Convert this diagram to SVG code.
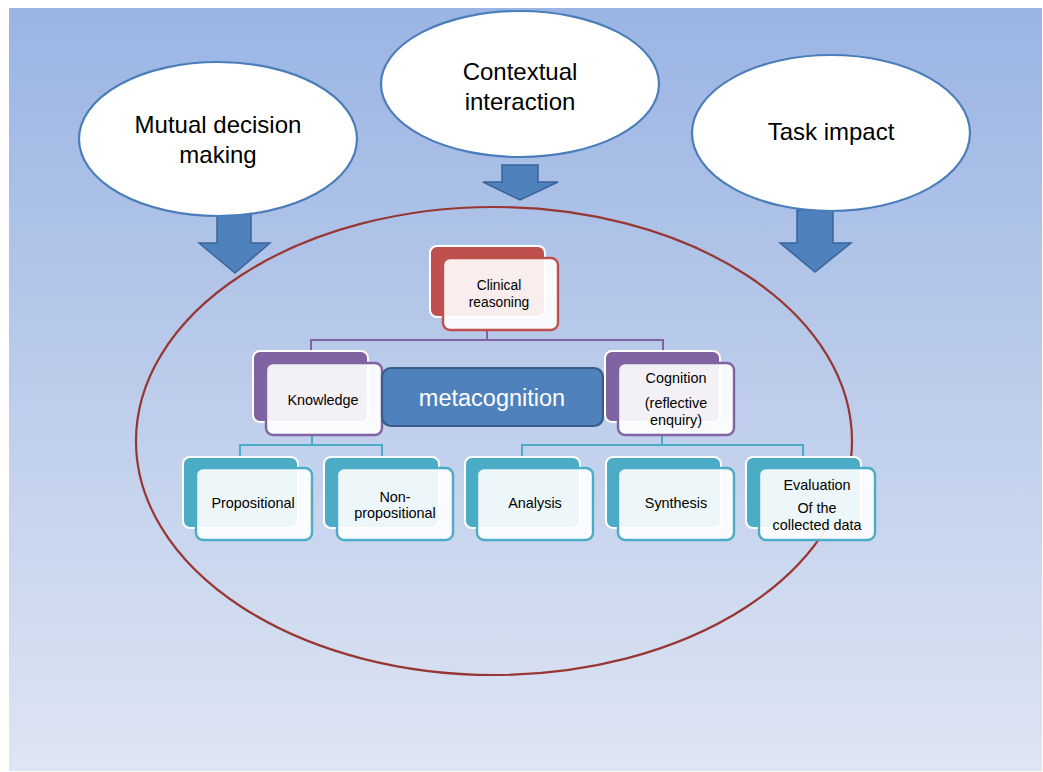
<svg xmlns="http://www.w3.org/2000/svg" width="1043" height="772" viewBox="0 0 1043 772">
  <defs>
    <linearGradient id="bg" x1="0" y1="0" x2="0" y2="1">
      <stop offset="0" stop-color="#9AB4E3"/>
      <stop offset="1" stop-color="#DEE5F3"/>
    </linearGradient>
  </defs>
  <style>
    .lbl { font-family: "Liberation Sans", Arial, sans-serif; fill: #000; text-anchor: middle; }
    .big { font-size: 24px; }
    .sm { font-size: 14.4px; }
    .bubble { fill: #FFFFFF; stroke: #4A7EBB; stroke-width: 2.2; }
    .arrow { fill: #4F81BD; stroke: #3A649A; stroke-width: 1.5; stroke-linejoin: miter; }
    .ring { fill: none; stroke: #983634; stroke-width: 2.2; }
    .back { stroke: #FFFFFF; stroke-width: 2; }
    .front { fill: #FFFFFF; fill-opacity: 0.9; stroke-width: 2.4; }
    .red .back { fill: #C0504D; }
    .red .front { stroke: #C0504D; }
    .purple .back { fill: #8064A2; }
    .purple .front { stroke: #8064A2; }
    .teal .back { fill: #4BACC6; }
    .teal .front { stroke: #4BACC6; }
    .link-p { fill: none; stroke: #8064A2; stroke-width: 2; }
    .link-t { fill: none; stroke: #4BACC6; stroke-width: 2; }
  </style>

  <!-- backdrop -->
  <rect x="9" y="8" width="1033" height="763" fill="url(#bg)"/>

  <!-- outer boundary ring -->
  <ellipse class="ring" cx="494" cy="441" rx="358" ry="234"/>

  <!-- influence arrows -->
  <g id="arrows">
    <polygon class="arrow" points="217,210 251,210 251,243 270,243 235,273 199,243 217,243"/>
    <polygon class="arrow" points="502,165 538,165 538,182 558,182 520,200 483,182 502,182"/>
    <polygon class="arrow" points="797,210 833,210 833,243 851,243 815,272 780,243 797,243"/>
  </g>

  <!-- outside influences -->
  <g id="mutual-decision">
    <ellipse class="bubble" cx="218" cy="139" rx="139" ry="77"/>
    <text class="lbl big" x="218" y="133">Mutual decision</text>
    <text class="lbl big" x="218" y="163">making</text>
  </g>
  <g id="contextual-interaction">
    <ellipse class="bubble" cx="520" cy="84" rx="139" ry="73"/>
    <text class="lbl big" x="520" y="80">Contextual</text>
    <text class="lbl big" x="520" y="110">interaction</text>
  </g>
  <g id="task-impact">
    <ellipse class="bubble" cx="831" cy="133" rx="139" ry="78"/>
    <text class="lbl big" x="831" y="140">Task impact</text>
  </g>

  <!-- hierarchy connectors -->
  <g id="connectors">
    <path class="link-p" d="M487,331 V340 M311,352 V340 H663 V352"/>
    <path class="link-t" d="M312,435 V445 M240,457 V445 H382 V457"/>
    <path class="link-t" d="M662,435 V445 M522,457 V445 H803 V457"/>
  </g>

  <!-- clinical reasoning -->
  <g id="clinical-reasoning" class="red">
    <rect class="back" x="430" y="246" width="115" height="71" rx="7"/>
    <rect class="front" x="443" y="258" width="115" height="72" rx="7"/>
    <text class="lbl" font-size="13.8" x="499" y="290">Clinical</text>
    <text class="lbl" font-size="13.8" x="499" y="307">reasoning</text>
  </g>

  <!-- knowledge -->
  <g id="knowledge" class="purple">
    <rect class="back" x="253" y="351" width="115" height="71" rx="7"/>
    <rect class="front" x="266" y="363" width="116" height="72" rx="7"/>
    <text class="lbl sm" x="323" y="405">Knowledge</text>
  </g>

  <!-- metacognition -->
  <g id="metacognition">
    <rect x="382" y="368" width="221" height="58" rx="9" fill="#4F81BD" stroke="#385D8A" stroke-width="2.2"/>
    <text class="lbl" font-size="23.5" style="fill:#FFFFFF" x="492" y="406">metacognition</text>
  </g>

  <!-- cognition -->
  <g id="cognition" class="purple">
    <rect class="back" x="605" y="351" width="115" height="71" rx="7"/>
    <rect class="front" x="618" y="363" width="116" height="72" rx="7"/>
    <text class="lbl sm" x="676" y="383">Cognition</text>
    <text class="lbl sm" x="676" y="408">(reflective</text>
    <text class="lbl sm" x="676" y="425">enquiry)</text>
  </g>

  <!-- knowledge subtypes -->
  <g id="propositional" class="teal">
    <rect class="back" x="183" y="457" width="115" height="71" rx="7"/>
    <rect class="front" x="196" y="468" width="116" height="72" rx="7"/>
    <text class="lbl sm" x="253" y="508">Propositional</text>
  </g>
  <g id="non-propositional" class="teal">
    <rect class="back" x="324" y="457" width="115" height="71" rx="7"/>
    <rect class="front" x="337" y="468" width="116" height="72" rx="7"/>
    <text class="lbl sm" x="395" y="502">Non-</text>
    <text class="lbl sm" x="395" y="518">propositional</text>
  </g>

  <!-- cognition subtypes -->
  <g id="analysis" class="teal">
    <rect class="back" x="465" y="457" width="115" height="71" rx="7"/>
    <rect class="front" x="477" y="468" width="116" height="72" rx="7"/>
    <text class="lbl sm" x="535" y="508">Analysis</text>
  </g>
  <g id="synthesis" class="teal">
    <rect class="back" x="606" y="457" width="115" height="71" rx="7"/>
    <rect class="front" x="618" y="468" width="116" height="72" rx="7"/>
    <text class="lbl sm" x="676" y="508">Synthesis</text>
  </g>
  <g id="evaluation" class="teal">
    <rect class="back" x="746" y="457" width="115" height="71" rx="7"/>
    <rect class="front" x="759" y="468" width="116" height="72" rx="7"/>
    <text class="lbl sm" x="817" y="490">Evaluation</text>
    <text class="lbl sm" x="817" y="513">Of the</text>
    <text class="lbl sm" x="817" y="530">collected data</text>
  </g>
</svg>
